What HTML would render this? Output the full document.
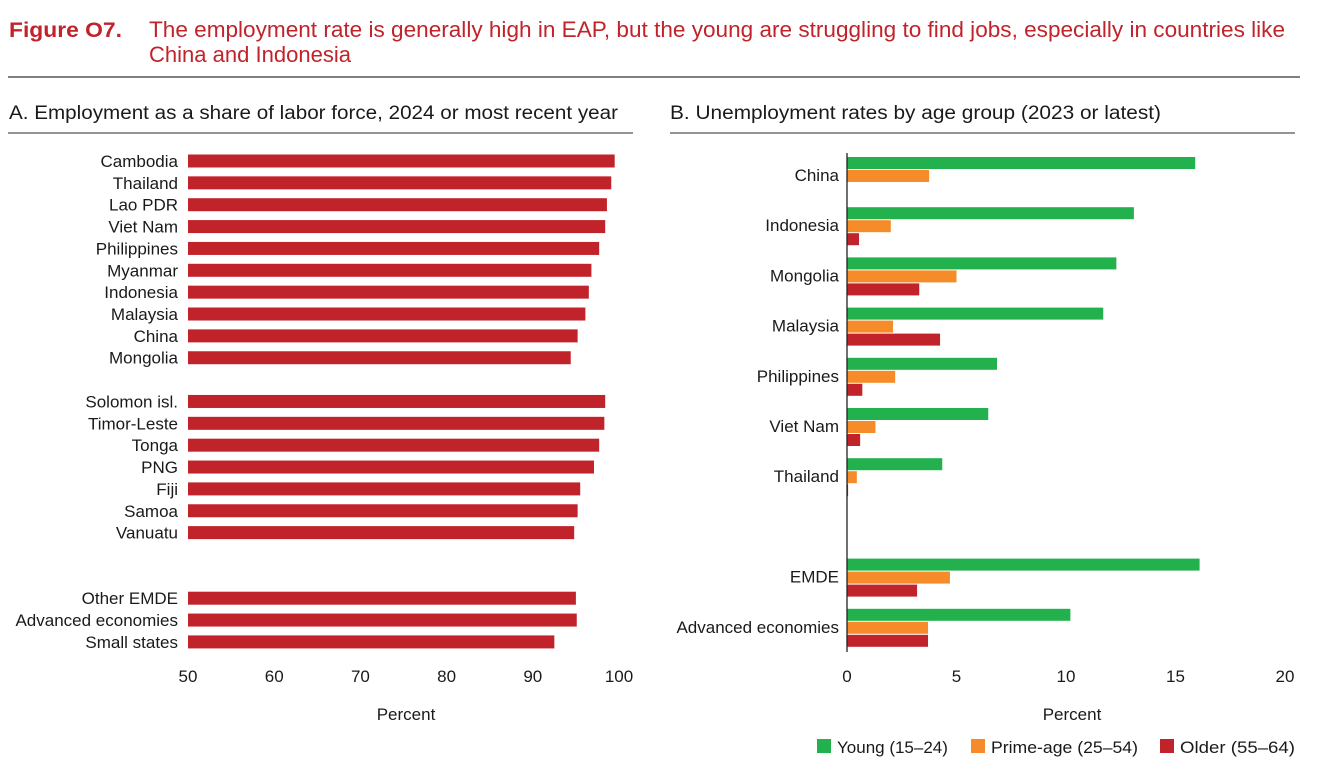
<!DOCTYPE html>
<html><head><meta charset="utf-8"><style>
body{margin:0;background:#fff;width:1325px;height:768px;overflow:hidden;font-family:"Liberation Sans",sans-serif;}
svg{display:block}
text{font-family:"Liberation Sans",sans-serif;fill:#1a1a1a}
</style></head><body>
<svg id="c" width="1325" height="768">
<text x="9" y="37" font-size="21" font-weight="bold" textLength="113" lengthAdjust="spacingAndGlyphs" style="fill:#c1232b">Figure O7.</text>
<text x="149" y="37" font-size="22" textLength="1136" lengthAdjust="spacingAndGlyphs" style="fill:#c1232b">The employment rate is generally high in EAP, but the young are struggling to find jobs, especially in countries like</text>
<text x="149" y="62" font-size="22" textLength="202" lengthAdjust="spacingAndGlyphs" style="fill:#c1232b">China and Indonesia</text>
<line x1="8" y1="77" x2="1300" y2="77" stroke="#555" stroke-width="1.5"/>
<text x="9" y="119" font-size="19" textLength="609" lengthAdjust="spacingAndGlyphs">A. Employment as a share of labor force, 2024 or most recent year</text>
<line x1="8" y1="133" x2="633" y2="133" stroke="#555" stroke-width="1.2"/>
<text x="670" y="119" font-size="19" textLength="491" lengthAdjust="spacingAndGlyphs">B. Unemployment rates by age group (2023 or latest)</text>
<line x1="670" y1="133" x2="1295" y2="133" stroke="#555" stroke-width="1.2"/>
<g id="ga"></g>
<g id="gb"></g>
<text x="406" y="720" font-size="17" text-anchor="middle">Percent</text>
<text x="1072" y="720" font-size="17" text-anchor="middle">Percent</text>
<g>
<rect x="817" y="739" width="14" height="14" fill="#22b14c"/>
<text x="837" y="753" font-size="17">Young (15–24)</text>
<rect x="971" y="739" width="14" height="14" fill="#f68b2a"/>
<text x="991" y="753" font-size="17" textLength="147" lengthAdjust="spacingAndGlyphs">Prime-age (25–54)</text>
<rect x="1160" y="739" width="14" height="14" fill="#c1232b"/>
<text x="1180" y="753" font-size="17" textLength="115" lengthAdjust="spacingAndGlyphs">Older (55–64)</text>
</g>
</svg>
<script>
const aCats=["Cambodia","Thailand","Lao PDR","Viet Nam","Philippines","Myanmar","Indonesia","Malaysia","China","Mongolia","","Solomon isl.","Timor-Leste","Tonga","PNG","Fiji","Samoa","Vanuatu","","","Other EMDE","Advanced economies","Small states"];
const aVals=[99.5,99.1,98.6,98.4,97.7,96.8,96.5,96.1,95.2,94.4,null,98.4,98.3,97.7,97.1,95.5,95.2,94.8,null,null,95.0,95.1,92.5];
const aTicks=[50,60,70,80,90,100];
const bCats=["China","Indonesia","Mongolia","Malaysia","Philippines","Viet Nam","Thailand","","EMDE","Advanced economies"];
const bYoung=[15.9,13.1,12.3,11.7,6.85,6.45,4.35,null,16.1,10.2];
const bPrime=[3.75,2.0,5.0,2.1,2.2,1.3,0.45,null,4.7,3.7];
const bOlder=[0,0.55,3.3,4.25,0.7,0.6,0.05,null,3.2,3.7];
const bTicks=[0,5,10,15,20];
const NS="http://www.w3.org/2000/svg";
function mk(t,a,p){const e=document.createElementNS(NS,t);for(const k in a)e.setAttribute(k,a[k]);p.appendChild(e);return e;}
const ga=document.getElementById('ga'),gb=document.getElementById('gb');
const xa=v=>188+(v-50)*(431/50), ya=i=>161+i*21.86;
aCats.forEach((c,i)=>{
 if(aVals[i]==null)return;
 const r=mk('rect',{x:xa(50),y:ya(i)-6.5,width:xa(aVals[i])-xa(50),height:13,fill:'#c1232b'},ga);
 
 
 const t=mk('text',{x:178,y:ya(i)+6,'font-size':17,'text-anchor':'end'},ga);t.textContent=c;
 
 
});
aTicks.forEach(v=>{const t=mk('text',{x:xa(v),y:682,'font-size':17,'text-anchor':'middle'},ga);t.textContent=v;
 
 });
const xb=v=>847+v*(438/20), yb=i=>175+i*50.2;
const cols=['#22b14c','#f68b2a','#c1232b'],ser=[bYoung,bPrime,bOlder],offs=[-12,1,14],nm=['young','prime','older'];
bCats.forEach((c,i)=>{
 if(bYoung[i]==null)return;
 ser.forEach((s,k)=>{
  const r=mk('rect',{x:xb(0),y:yb(i)+offs[k]-6,width:Math.max(0,xb(s[i])-xb(0)),height:12,fill:cols[k]},gb);
  
  
 });
 const t=mk('text',{x:839,y:yb(i)+6,'font-size':17,'text-anchor':'end'},gb);t.textContent=c;
 
 
});
const ax=mk('line',{x1:847,y1:153,x2:847,y2:652,stroke:'#222','stroke-width':1.3},gb);


bTicks.forEach(v=>{const t=mk('text',{x:xb(v),y:682,'font-size':17,'text-anchor':'middle'},gb);t.textContent=v;
 
 });
</script>
</body></html>
